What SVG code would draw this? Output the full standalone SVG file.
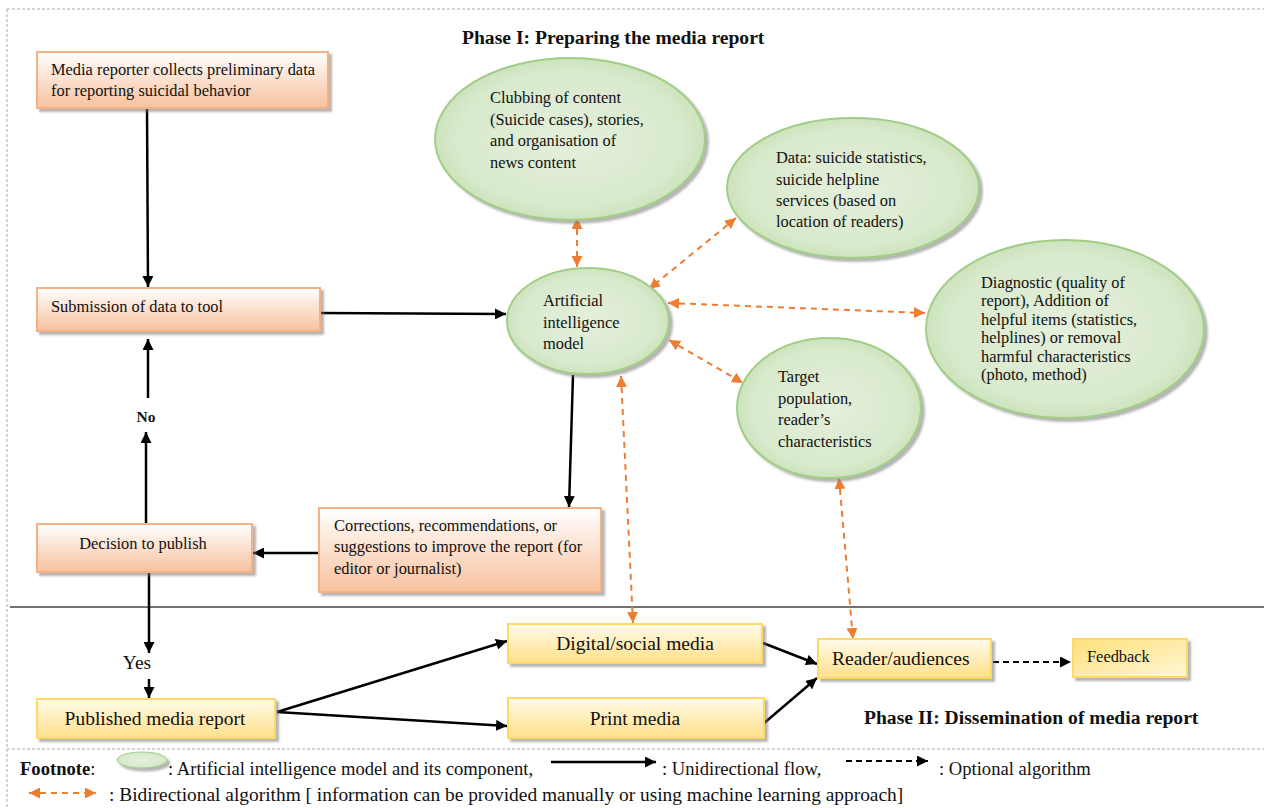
<svg xmlns="http://www.w3.org/2000/svg" width="1264" height="808" viewBox="0 0 1264 808">
<style>
text{font-family:"Liberation Serif","Times New Roman",serif;fill:#111;}
.t14{font-size:16.4px;}
.dg{font-size:16.4px;}
.t16{font-size:19.5px;}
.b15{font-size:19.6px;font-weight:bold;}
.fn{font-size:18.6px;}
.ob{fill:url(#gOrange);stroke:#f4b183;stroke-width:2;filter:url(#sh);}
.yb{fill:url(#gYellow);stroke:#ffd966;stroke-width:2;filter:url(#sh);}
.el{fill:url(#gGreen);stroke:#a2cd86;stroke-width:2;filter:url(#sh);}
.blk{stroke:#000;stroke-width:2.5;fill:none;marker-end:url(#aBlk);}
.opt{stroke:#000;stroke-width:2;fill:none;stroke-dasharray:6,4;marker-end:url(#aBlk);}
.bi{stroke:#ed7d31;stroke-width:2;fill:none;stroke-dasharray:6,5;marker-start:url(#aOr);marker-end:url(#aOr);}
.border{stroke:#aaa;stroke-width:1;stroke-dasharray:3,2;fill:none;}
</style>
<defs>
<linearGradient id="gOrange" x1="0" y1="0" x2="0" y2="1">
<stop offset="0" stop-color="#ffffff"/>
<stop offset="1" stop-color="#f7c19d"/>
</linearGradient>
<linearGradient id="gYellow" x1="0" y1="0" x2="0" y2="1">
<stop offset="0" stop-color="#fffbea"/>
<stop offset="1" stop-color="#ffe089"/>
</linearGradient>
<linearGradient id="gYellowFb" x1="0" y1="0" x2="1" y2="1">
<stop offset="0" stop-color="#ffe07a"/>
<stop offset="1" stop-color="#fff6d6"/>
</linearGradient>
<radialGradient id="gGreen" cx="0.5" cy="0.5" r="0.6">
<stop offset="0" stop-color="#e4f0dc"/>
<stop offset="0.7" stop-color="#d8e9cc"/>
<stop offset="1" stop-color="#bfdca8"/>
</radialGradient>
<filter id="sh" x="-10%" y="-10%" width="130%" height="140%">
<feDropShadow dx="3" dy="3" stdDeviation="1.2" flood-color="#777" flood-opacity="0.55"/>
</filter>
<marker id="aBlk" markerUnits="userSpaceOnUse" markerWidth="12" markerHeight="11" refX="11" refY="5.5" orient="auto">
<path d="M0,0 L11,5.5 L0,11 z" fill="#000"/>
</marker>
<marker id="aOr" markerUnits="userSpaceOnUse" markerWidth="12" markerHeight="11" refX="11" refY="5.5" orient="auto-start-reverse">
<path d="M0,0 L11,5.5 L0,11 z" fill="#ed7d31"/>
</marker>
</defs>
<rect width="1264" height="808" fill="#fff"/>
<g id="frame">
<line class="border" x1="7" y1="9" x2="1264" y2="9"/>
<line class="border" x1="7" y1="9" x2="7" y2="808"/>
<line class="border" x1="7" y1="749" x2="1264" y2="749"/>
<line x1="10" y1="607" x2="1264" y2="607" stroke="#444" stroke-width="1.3"/>
</g>
<text x="462" y="44" class="b15">Phase I: Preparing the media report</text>
<text x="864" y="724" class="b15">Phase II: Dissemination of media report</text>
<g id="connectors">
<line class="blk" x1="147" y1="108" x2="148" y2="287"/>
<line class="blk" x1="146" y1="523" x2="146" y2="432"/>
<line class="blk" x1="148" y1="398" x2="148" y2="339"/>
<line class="blk" x1="320" y1="313" x2="506" y2="314"/>
<line class="blk" x1="573" y1="375" x2="569" y2="507"/>
<line class="blk" x1="319" y1="553" x2="253" y2="553"/>
<line class="blk" x1="149" y1="572" x2="149" y2="653"/>
<line class="blk" x1="149" y1="679" x2="149" y2="698"/>
<line class="blk" x1="277" y1="712" x2="507" y2="641"/>
<line class="blk" x1="277" y1="712" x2="507" y2="726"/>
<line class="blk" x1="763" y1="643" x2="817" y2="664"/>
<line class="blk" x1="763" y1="724" x2="817" y2="678"/>
<line class="opt" x1="993" y1="662" x2="1071" y2="662"/>
<line class="bi" x1="577" y1="218" x2="577" y2="267"/>
<line class="bi" x1="736" y1="218" x2="649" y2="289"/>
<line class="bi" x1="668" y1="303" x2="925" y2="313"/>
<line class="bi" x1="669" y1="340" x2="743" y2="383"/>
<line class="bi" x1="621" y1="376" x2="633" y2="623"/>
<line class="bi" x1="839" y1="478" x2="853" y2="639"/>
<text x="146" y="422" text-anchor="middle" style="font-size:15.5px;font-weight:bold">No</text>
<text x="137" y="669" text-anchor="middle" class="t16">Yes</text>
</g>
<g id="n-media-reporter">
<rect class="ob" x="37" y="52" width="291" height="56"/>
<text x="51" y="75" class="t14">Media reporter collects preliminary data</text>
<text x="51" y="96" class="t14">for reporting suicidal behavior</text>
</g>
<g id="n-submission">
<rect class="ob" x="37" y="288" width="283" height="43"/>
<text x="51" y="312" class="t14">Submission of data to tool</text>
</g>
<g id="n-decision">
<rect class="ob" x="37" y="524" width="215" height="48"/>
<text x="143" y="549" text-anchor="middle" class="t14">Decision to publish</text>
</g>
<g id="n-corrections">
<rect class="ob" x="319" y="508" width="282" height="84"/>
<text x="334" y="531" class="t14">Corrections, recommendations, or</text>
<text x="334" y="552" class="t14">suggestions to improve the report (for</text>
<text x="334" y="574" class="t14">editor or journalist)</text>
</g>
<g id="n-clubbing">
<ellipse class="el" cx="570" cy="139" rx="135" ry="81"/>
<text x="490" y="103" class="t14">Clubbing of content</text>
<text x="490" y="125" class="t14">(Suicide cases), stories,</text>
<text x="490" y="146" class="t14">and organisation of</text>
<text x="490" y="168" class="t14">news content</text>
</g>
<g id="n-data">
<ellipse class="el" cx="853" cy="188" rx="126" ry="70"/>
<text x="776" y="163" class="t14">Data: suicide statistics,</text>
<text x="776" y="185" class="t14">suicide helpline</text>
<text x="776" y="206" class="t14">services (based on</text>
<text x="776" y="227" class="t14">location of readers)</text>
</g>
<g id="n-ai">
<ellipse class="el" cx="588" cy="321" rx="81" ry="53"/>
<text x="543" y="306" class="t14">Artificial</text>
<text x="543" y="328" class="t14">intelligence</text>
<text x="543" y="349" class="t14">model</text>
</g>
<g id="n-diagnostic">
<ellipse class="el" cx="1065" cy="329" rx="139" ry="89"/>
<text x="981" y="288" class="dg">Diagnostic (quality of</text>
<text x="981" y="306" class="dg">report), Addition of</text>
<text x="981" y="325" class="dg">helpful items (statistics,</text>
<text x="981" y="343" class="dg">helplines) or removal</text>
<text x="981" y="362" class="dg">harmful characteristics</text>
<text x="981" y="380" class="dg">(photo, method)</text>
</g>
<g id="n-target">
<ellipse class="el" cx="829" cy="408" rx="92" ry="70"/>
<text x="778" y="382" class="t14">Target</text>
<text x="778" y="404" class="t14">population,</text>
<text x="778" y="425" class="t14">reader’s</text>
<text x="778" y="447" class="t14">characteristics</text>
</g>
<g id="n-published">
<rect class="yb" x="37" y="699" width="238" height="39"/>
<text x="155" y="725" text-anchor="middle" class="t16">Published media report</text>
</g>
<g id="n-digital">
<rect class="yb" x="508" y="624" width="254" height="39"/>
<text x="635" y="650" text-anchor="middle" class="t16">Digital/social media</text>
</g>
<g id="n-print">
<rect class="yb" x="508" y="698" width="256" height="40"/>
<text x="635" y="725" text-anchor="middle" class="t16">Print media</text>
</g>
<g id="n-reader">
<rect class="yb" x="818" y="639" width="173" height="39"/>
<text x="832" y="665" class="t16">Reader/audiences</text>
</g>
<g id="n-feedback">
<rect x="1073" y="639" width="114" height="38" fill="url(#gYellowFb)" stroke="#ffd966" stroke-width="2" filter="url(#sh)"/>
<text x="1087" y="662" class="t14">Feedback</text>
</g>
<g id="footnote">
<text x="20" y="775" class="fn"><tspan font-weight="bold">Footnote</tspan>:</text>
<ellipse cx="142" cy="760" rx="25" ry="8" class="el" style="stroke-width:1"/>
<text x="168" y="775" class="fn">: Artificial intelligence model and its component,</text>
<line class="blk" x1="551" y1="762" x2="656" y2="762"/>
<text x="662" y="775" class="fn">: Unidirectional flow,</text>
<line class="opt" x1="846" y1="761" x2="928" y2="761"/>
<text x="939" y="775" class="fn">: Optional algorithm</text>
<line class="bi" x1="29" y1="793" x2="96" y2="793"/>
<text x="109" y="801" class="fn" style="font-size:19.4px">: Bidirectional algorithm [ information can be provided manually or using machine learning approach]</text>
</g>
</svg>
